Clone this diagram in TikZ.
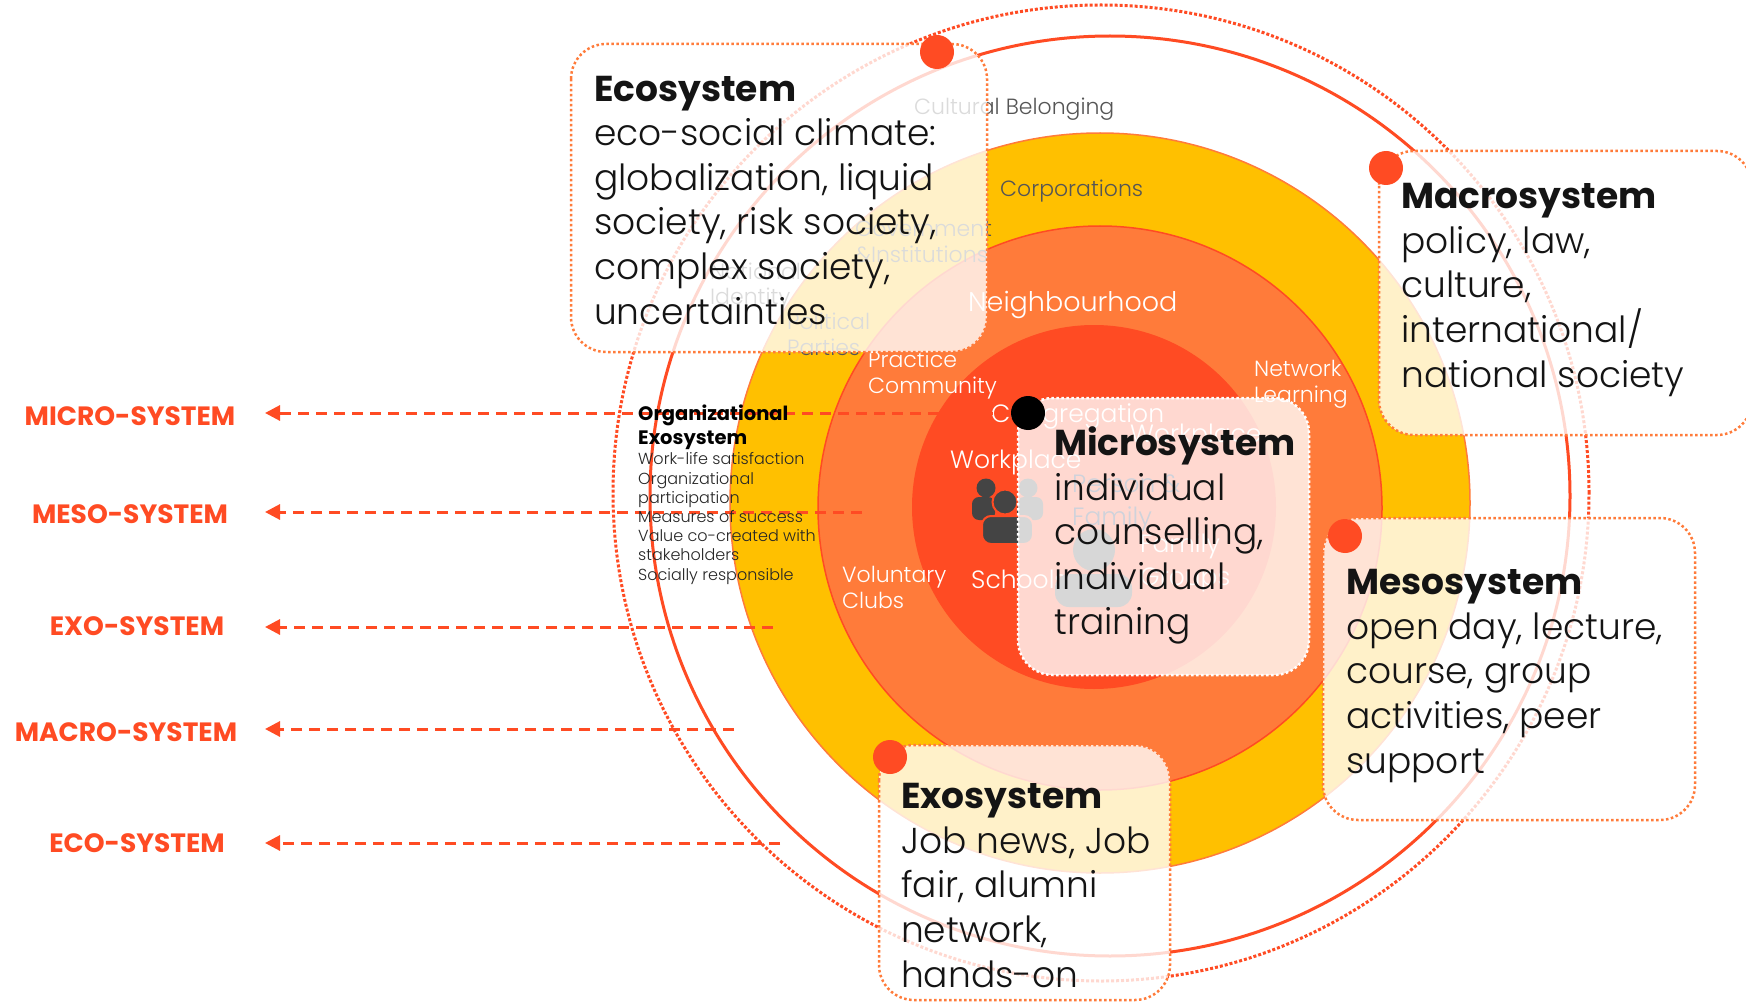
\documentclass[tikz,border=0pt]{standalone}
\usepackage{fontspec}
\IfFontExistsTF{Poppins-Light.ttf}
  {\setmainfont{Poppins-Light.ttf}[BoldFont=Poppins-Bold.ttf]}
  {\IfFontExistsTF{Poppins-Light.otf}
    {\setmainfont{Poppins-Light.otf}[BoldFont=Poppins-Bold.otf]}
    {\IfFontExistsTF{Poppins Light}
      {\setmainfont{Poppins Light}[BoldFont={Poppins Bold}]}
      {\setmainfont{Poppins}}}}
\usetikzlibrary{arrows.meta}
\definecolor{ringred}{RGB}{255,75,35}
\definecolor{ringorange}{RGB}{255,123,58}
\definecolor{ringyellow}{RGB}{255,192,0}
\definecolor{labelgrey}{RGB}{85,85,85}
\definecolor{icongrey}{RGB}{68,68,68}
\definecolor{slate}{RGB}{30,45,85}

\tikzset{
  sysbox/.style={draw=ringorange, line width=2.5pt, dash pattern=on 2.5pt off 2.5pt,
    fill=white, fill opacity=0.79, rounded corners=35pt},
  sysdot/.style={circle, fill=ringred, minimum size=34pt, inner sep=0pt},
  sysline/.style={ringred, line width=3pt, dash pattern=on 11pt off 7pt,
    -{Triangle[length=15pt, width=15pt]}},
  syslabel/.style={anchor=base, inner sep=0pt, text=ringred,
    font=\fontsize{26.5}{30}\selectfont\bfseries},
  boxtext/.style={anchor=base west, align=left, inner sep=0pt, text=black!92,
    font=\fontsize{36}{44.6}\selectfont},
  ringtext/.style={anchor=base west, align=left, inner sep=0pt, text=white,
    font=\fontsize{22}{25.5}\selectfont}
}

\begin{document}
\begin{tikzpicture}[x=1pt, y=-1pt]
  \useasboundingbox (0,0) rectangle (1746,1003);
  \fill[white] (0,0) rectangle (1746,1003);

  %Outer rings
  \draw[ringred, line width=3pt, dotted] (1101,493) circle[radius=488pt];
  \draw[ringred, line width=3pt] (1110,496) circle[radius=460pt];

  %Discs
  \filldraw[fill=ringyellow, draw=ringorange, line width=1.5pt] (1100,503) circle[radius=370pt];
  \filldraw[fill=ringorange, draw=ringred, line width=1.5pt] (1100,508) circle[radius=282pt];
  \fill[ringred] (1094,507) circle[radius=182pt];

  %Ring labels (anchored at the last line)
  \node[ringtext, text=labelgrey] (belonging) at (914,115) {Cultural Belonging};
  \node[ringtext, text=labelgrey] (corporations) at (1000,197) {Corporations};
  \node[ringtext, text=labelgrey] (government) at (855,262) {Government\\\&Institutions};
  \node[ringtext, text=labelgrey] (identity) at (710,305) {National\\Identity};
  \node[ringtext, text=labelgrey] (parties) at (787,355) {Political\\Parties};
  \node[ringtext, font=\fontsize{27}{30}\selectfont] (neighbourhood) at (968,311) {Neighbourhood};
  \node[ringtext] (practice) at (868,393) {Practice\\Community};
  \node[ringtext] (network) at (1254,402) {Network\\Learning};
  \node[ringtext] (clubs) at (842,608) {Voluntary\\Clubs};
  \node[ringtext, font=\fontsize{25}{30}\selectfont] (congregation) at (991,422) {Congregation};
  \node[ringtext, font=\fontsize{25}{30}\selectfont] (workplace) at (950,468) {Workplace};
  \node[ringtext, font=\fontsize{25}{30}\selectfont] (schools) at (971,588) {Schools};
  \node[ringtext, font=\fontsize{25}{30}\selectfont] (workplaceb) at (1130,442) {Workplace};
  \node[ringtext, text=slate, font=\fontsize{25}{33}\selectfont] (person) at (1072,525) {Person \&\\Family};
  \node[ringtext, font=\fontsize{25}{33}\selectfont] (groups) at (1140,585) {Family\\Groups};

  %People icons
  \fill[icongrey] (986,488) circle[radius=9.5pt] (1028,488) circle[radius=9.5pt];
  \fill[icongrey, rounded corners=7pt] (972,520) rectangle (995,497);
  \fill[icongrey, rounded corners=7pt] (1017,520) rectangle (1043,497);
  \filldraw[fill=icongrey, draw=ringred, line width=2pt] (1005,502) circle[radius=12.5pt];
  \filldraw[fill=icongrey, draw=ringred, line width=2pt, rounded corners=9pt] (982,544) rectangle (1033,516);
  \fill[icongrey] (1094,550) circle[radius=21pt];
  \fill[icongrey, rounded corners=14pt] (1055,607) rectangle (1132,574);

  %Boxes
  \draw[sysbox] (571,44) rectangle (987,352);
  \draw[sysbox] (1379,151) rectangle (1752,435);
  \draw[sysbox] (1323,518) rectangle (1695,820);
  \draw[sysbox] (879,745) rectangle (1170,1000);
  \draw[sysbox, draw=white] (1018,398) rectangle (1309,675);

  \node[sysdot] (ecodot) at (937,52) {};
  \node[sysdot] (macrodot) at (1386,168) {};
  \node[sysdot] (mesodot) at (1345,536) {};
  \node[sysdot] (exodot) at (890,757) {};
  \node[sysdot, fill=black] (microdot) at (1028,413) {};

  \node[boxtext] (ecotext) at (594,324)
    {\textbf{Ecosystem}\\eco-social climate:\\globalization, liquid\\society, risk society,\\complex society,\\uncertainties};
  \node[boxtext] (macrotext) at (1401,387)
    {\textbf{Macrosystem}\\policy, law,\\culture,\\international/\\national society};
  \node[boxtext] (mesotext) at (1346,773)
    {\textbf{Mesosystem}\\open day, lecture,\\course, group\\activities, peer\\support};
  \node[boxtext] (exotext) at (901,987)
    {\textbf{Exosystem}\\Job news, Job\\fair, alumni\\network,\\hands-on};
  \node[boxtext] (microtext) at (1054,634)
    {\textbf{Microsystem}\\individual\\counselling,\\individual\\training};

  %Levels on the left
  \coordinate (microtip) at (265,413);
  \coordinate (mesotip) at (265,512);
  \coordinate (exotip) at (265,627);
  \coordinate (macrotip) at (265,729);
  \coordinate (ecotip) at (265,843);
  \coordinate (mesoend) at (862,512);
  \coordinate (exoend) at (773,627);
  \coordinate (macroend) at (734,729);
  \coordinate (ecoend) at (780,843);

  \draw[sysline] (microdot) -- (microtip);
  \draw[sysline] (mesoend) -- (mesotip);
  \draw[sysline] (exoend) -- (exotip);
  \draw[sysline] (macroend) -- (macrotip);
  \draw[sysline] (ecoend) -- (ecotip);

  \node[syslabel] (microlbl) at (130,425) {MICRO-SYSTEM};
  \node[syslabel] (mesolbl) at (130,523) {MESO-SYSTEM};
  \node[syslabel] (exolbl) at (137,635) {EXO-SYSTEM};
  \node[syslabel] (macrolbl) at (126,741) {MACRO-SYSTEM};
  \node[syslabel] (ecolbl) at (137,852) {ECO-SYSTEM};

  %Organizational exosystem
  \node[anchor=base west, align=left, inner sep=0pt, font=\fontsize{19.5}{24}\selectfont\bfseries] (orghead) at (638,444)
    {Organizational\\Exosystem};
  \node[anchor=base west, align=left, inner sep=0pt, text=black!85, font=\fontsize{16}{19.2}\selectfont] (orgbody) at (638,580)
    {Work-life satisfaction\\Organizational\\participation\\Measures of success\\Value co-created with\\stakeholders\\Socially responsible};
\end{tikzpicture}
\end{document}
